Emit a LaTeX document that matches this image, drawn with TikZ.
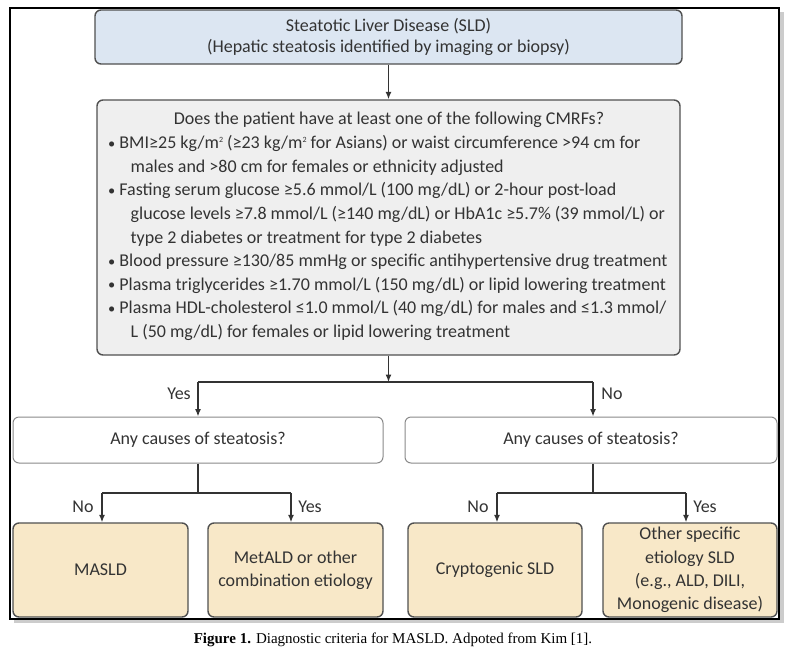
\documentclass[tikz,border=0pt]{standalone}
\usepackage{fontspec}
\setmainfont{Carlito}
\newfontfamily\capfont{Liberation Serif}
\usetikzlibrary{arrows.meta}
\definecolor{txt}{HTML}{333333}
\definecolor{bluefill}{HTML}{DCE6F2}
\definecolor{grayfill}{HTML}{EFEFEF}
\definecolor{beige}{HTML}{F8E8C8}
\definecolor{edge}{HTML}{505050}
\definecolor{lightedge}{HTML}{8A8A8A}
\definecolor{wire}{HTML}{333333}
\newcommand{\sqsup}{\raisebox{0.75ex}{\fontsize{8}{8}\selectfont 2}}
\newcommand{\bul}{\raisebox{0.05ex}{\scalebox{0.8}{•}}}
\begin{document}
\begin{tikzpicture}[x=1pt,y=-1pt,
  basefont/.style={font=\fontsize{18}{21}\selectfont},
  box/.style={draw=edge, line width=1.4pt, rounded corners=6pt, inner sep=0pt, text=txt, align=center, basefont},
  topbox/.style={box, fill=bluefill, minimum width=587pt, minimum height=54pt},
  critbox/.style={box, fill=grayfill, minimum width=583pt, minimum height=255pt},
  midbox/.style={box, draw=lightedge, line width=1pt, fill=white, minimum height=46pt},
  endbox/.style={box, fill=beige, minimum width=175pt, minimum height=94pt, font=\fontsize{18}{23.3}\selectfont},
  plain/.style={inner sep=0pt, text=txt, basefont},
  lbl/.style={inner sep=0pt, text=txt, basefont},
  wireline/.style={draw=wire, line width=1.3pt},
  arrow/.style={wireline, -{Latex[length=7.5pt,width=6pt]}}
]
\useasboundingbox (0,0) rectangle (791,653);
% outer frame with shadow
\fill[gray!40] (14,12) rectangle (784,623);
\draw[black, line width=1.2pt, fill=white] (10,8) rectangle (779,619);

% top box
\node[topbox] (sld) at (388.5,37) {Steatotic Liver Disease (SLD)\\(Hepatic steatosis identified by imaging or biopsy)};

% criteria box
\node[critbox] (crit) at (388.5,227.5) {};
\node[plain] (critTitle) at (389,120) {Does the patient have at least one of the following CMRFs?};
\node[plain, anchor=base west, align=left, font=\fontsize{18}{23.6}\selectfont] (critList) at (108,337.5) {%
\bul\ BMI≥25 kg/m\sqsup\ (≥23 kg/m\sqsup\ for Asians) or waist circumference >94 cm for\\
\hspace*{1.25em}males and >80 cm for females or ethnicity adjusted\\
\bul\ Fasting serum glucose ≥5.6 mmol/L (100 mg/dL) or 2-hour post-load\\
\hspace*{1.25em}glucose levels ≥7.8 mmol/L (≥140 mg/dL) or HbA1c ≥5.7\% (39 mmol/L) or\\
\hspace*{1.25em}type 2 diabetes or treatment for type 2 diabetes\\
\bul\ Blood pressure ≥130/85 mmHg or specific antihypertensive drug treatment\\
\bul\ Plasma triglycerides ≥1.70 mmol/L (150 mg/dL) or lipid lowering treatment\\
\bul\ Plasma HDL-cholesterol ≤1.0 mmol/L (40 mg/dL) for males and ≤1.3 mmol/\\
\hspace*{1.25em}L (50 mg/dL) for females or lipid lowering treatment};

% second level
\node[midbox, minimum width=370pt] (causesL) at (198,440) {Any causes of steatosis?};
\node[midbox, minimum width=372pt] (causesR) at (591,440) {Any causes of steatosis?};

% outcomes
\node[endbox] (masld) at (100.5,570) {MASLD};
\node[endbox] (metald) at (295.5,570) {MetALD or other\\combination etiology};
\node[endbox, minimum width=174pt] (crypto) at (495,570) {Cryptogenic SLD};
\node[endbox, minimum width=174pt] (other) at (690,570) {Other specific\\etiology SLD\\(e.g., ALD, DILI,\\Monogenic disease)};

% junction coordinates
\coordinate (j1) at (388.5,382);
\coordinate (j1L) at (198,382);
\coordinate (j1R) at (593,382);
\coordinate (j2a) at (102,493);
\coordinate (j2b) at (291,493);
\coordinate (j3a) at (497,493);
\coordinate (j3b) at (686,493);

% connectors
\draw[arrow] (sld.south) -- (crit.north);
\draw[arrow] (crit.south) -- (j1);
\draw[wireline] (j1L) -- (j1R);
\draw[arrow] (j1L) -- (causesL.north);
\draw[arrow] (j1R) -- (j1R |- causesR.north);
\draw[wireline] (causesL.south) -- (causesL.south |- j2a);
\draw[wireline] (j2a) -- (j2b);
\draw[arrow] (j2a) -- (j2a |- masld.north);
\draw[arrow] (j2b) -- (j2b |- metald.north);
\draw[wireline] (j1R |- causesR.south) -- (j1R |- j3a);
\draw[wireline] (j3a) -- (j3b);
\draw[arrow] (j3a) -- (j3a |- crypto.north);
\draw[arrow] (j3b) -- (j3b |- other.north);

% branch labels
\node[lbl] (yes1) at (179,394) {Yes};
\node[lbl] (no1) at (612,394) {No};
\node[lbl] (no2) at (83,507) {No};
\node[lbl] (yes2) at (310,507) {Yes};
\node[lbl] (no3) at (478,507) {No};
\node[lbl] (yes3) at (705,507) {Yes};

% caption
\node[inner sep=0pt, font=\capfont\fontsize{15}{17}\selectfont] (cap) at (393,640) {\textbf{Figure 1.} Diagnostic criteria for MASLD. Adpoted from Kim [1].};
\end{tikzpicture}
\end{document}
